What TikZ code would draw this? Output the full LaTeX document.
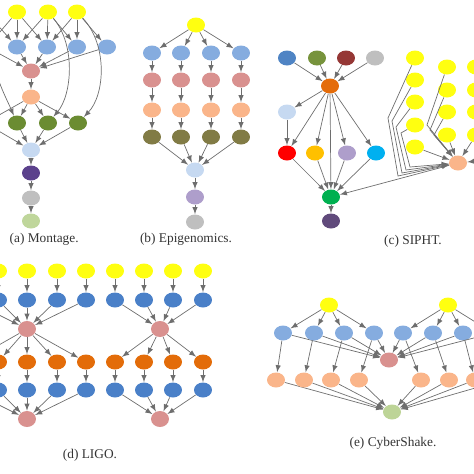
\documentclass[tikz,border=0pt]{standalone}
\usepackage{fontspec}
\setmainfont{Liberation Serif}
\usetikzlibrary{shapes.geometric}
\definecolor{ylw}{HTML}{FFFF10}
\definecolor{ltblue}{HTML}{85ACDF}
\definecolor{pinkj}{HTML}{D9918F}
\definecolor{peach}{HTML}{FAB58A}
\definecolor{mgreen}{HTML}{6B8C32}
\definecolor{paleblue}{HTML}{C6D9F1}
\definecolor{dkpurple}{HTML}{5B418C}
\definecolor{gry}{HTML}{BFBFBF}
\definecolor{palegreen}{HTML}{BFD69B}
\definecolor{olive}{HTML}{817B45}
\definecolor{lav}{HTML}{AE9ECB}
\definecolor{sblue}{HTML}{4F84C4}
\definecolor{sgreen}{HTML}{77933C}
\definecolor{sred}{HTML}{953735}
\definecolor{sorange}{HTML}{E46C0A}
\definecolor{amber}{HTML}{FFC000}
\definecolor{cyanj}{HTML}{00B0F0}
\definecolor{emerald}{HTML}{00B050}
\definecolor{spurple}{HTML}{604A7B}
\definecolor{lblue}{HTML}{4A80C8}
\definecolor{lorange}{HTML}{E36C09}
\definecolor{cgreen}{HTML}{BDD497}
\definecolor{linegray}{HTML}{6E6E6E}
\tikzset{
  job/.style={ellipse, minimum width=0.36cm, minimum height=0.3cm, inner sep=0pt},
  dep/.style={->, draw=linegray, line width=0.4pt},
  figcap/.style={font=\fontsize{7.6}{9}\selectfont, text=black!80, inner sep=0pt}
}
\begin{document}
\begin{tikzpicture}[x=0.02cm, y=-0.02cm, >=latex]
    \useasboundingbox (0,0) rectangle (474,474);
    \clip (0,0) rectangle (474,474);
    % (a) Montage
    \foreach \i/\x in {0/-14,1/17,2/48,3/77}
        \node[job, fill=ylw] (mY\i) at (\x,12) {};
    \foreach \i/\x in {0/-13,1/17,2/47,3/77,4/107}
        \node[job, fill=ltblue] (mB\i) at (\x,47) {};
    \node[job, fill=pinkj] (mP) at (31,71) {};
    \node[job, fill=peach] (mO) at (31,97) {};
    \foreach \i/\x in {0/-15,1/17,2/48,3/78}
        \node[job, fill=mgreen] (mG\i) at (\x,123) {};
    \node[job, fill=paleblue] (mL) at (31,150) {};
    \node[job, fill=dkpurple] (mU) at (31,173) {};
    \node[job, fill=gry] (mR) at (31,198) {};
    \node[job, fill=palegreen] (mN) at (31,221) {};
    \foreach \a/\b in {0/0,0/1,1/0,1/1,1/2,2/1,2/2,2/3,3/2,3/3,3/4}
        \draw[dep] (mY\a) -- (mB\b);
    \foreach \b in {0,...,4}
        \draw[dep] (mB\b) -- (mP);
    \draw[dep] (mP) -- (mO);
    \foreach \g in {0,...,3} {
        \draw[dep] (mO) -- (mG\g);
        \draw[dep] (mG\g) -- (mL);
    }
    \draw[dep] (mY0) .. controls (-10,70) and (5,95) .. (mG1);
    \draw[dep] (mY2) .. controls (76,45) and (72,95) .. (mG2);
    \draw[dep] (mY3) .. controls (108,45) and (105,95) .. (mG3);
    \draw[dep] (mL) -- (mU);
    \draw[dep] (mU) -- (mR);
    \draw[dep] (mR) -- (mN);
    \node[figcap, anchor=east] (capA) at (79,239) {(a) Montage.};
    % (b) Epigenomics
    \node[job, fill=ylw] (eY) at (196,25) {};
    \foreach \i/\x in {1/152,2/181,3/211,4/241} {
        \node[job, fill=ltblue] (eB\i) at (\x,53) {};
        \node[job, fill=pinkj] (eP\i) at (\x,80) {};
        \node[job, fill=peach] (eO\i) at (\x,110) {};
        \node[job, fill=olive] (eK\i) at (\x,137) {};
    }
    \node[job, fill=paleblue] (eL) at (195,170) {};
    \node[job, fill=lav] (eV) at (195,197) {};
    \node[job, fill=gry] (eG) at (195,222) {};
    \foreach \i in {1,...,4} {
        \draw[dep] (eY) -- (eB\i);
        \draw[dep] (eB\i) -- (eP\i);
        \draw[dep] (eP\i) -- (eO\i);
        \draw[dep] (eO\i) -- (eK\i);
        \draw[dep] (eK\i) -- (eL);
    }
    \draw[dep] (eL) -- (eV);
    \draw[dep] (eV) -- (eG);
    \node[figcap] (capB) at (186,239) {(b) Epigenomics.};
    % (c) SIPHT
    \node[job, fill=sblue] (sT1) at (287,58) {};
    \node[job, fill=sgreen] (sT2) at (317,58) {};
    \node[job, fill=sred] (sT3) at (346,58) {};
    \node[job, fill=gry] (sT4) at (375,58) {};
    \node[job, fill=sorange] (sO) at (330,86) {};
    \node[job, fill=paleblue] (sL) at (287,112) {};
    \node[job, fill=red] (sR1) at (287,153) {};
    \node[job, fill=amber] (sR2) at (315,153) {};
    \node[job, fill=lav] (sR3) at (347,153) {};
    \node[job, fill=cyanj] (sR4) at (376,153) {};
    \node[job, fill=emerald] (sG) at (331,197) {};
    \node[job, fill=spurple] (sU) at (331,221) {};
    \foreach \i/\y in {1/58,2/80,3/102,4/125,5/147}
        \node[job, fill=ylw] (sA\i) at (415,\y) {};
    \foreach \i/\y in {1/67,2/90,3/112,4/135} {
        \node[job, fill=ylw] (sB\i) at (447,\y) {};
        \node[job, fill=ylw] (sC\i) at (476,\y) {};
    }
    \node[job, fill=peach] (sK) at (458,163) {};
    \node[job, fill=ylw] (sD) at (505,158) {};
    \foreach \i in {1,...,4} {
        \draw[dep] (sT\i) -- (sO);
        \draw[dep] (sO) -- (sR\i);
        \draw[dep] (sR\i) -- (sG);
    }
    \draw[dep] (sO) -- (sL);
    \draw[dep] (sL) -- (sR1);
    \draw[dep] (sO) -- (sG);
    \draw[dep] (sG) -- (sU);
    \draw[dep] (sK) -- (sG);
    \draw[dep] (sA1) -- (388,118) -- (398,176) -- (sK);
    \draw[dep] (sA2) -- (392,121) -- (402,173) -- (sK);
    \draw[dep] (sA3) -- (396,127) -- (406,170) -- (sK);
    \draw[dep] (sA4) -- (401,133) -- (410,167) -- (sK);
    \draw[dep] (sA5) -- (sK);
    \draw[dep] (sB1) -- (427,125) -- (sK);
    \draw[dep] (sB2) -- (430,130) -- (sK);
    \draw[dep] (sB3) -- (434,135) -- (sK);
    \draw[dep] (sB4) -- (sK);
    \draw[dep] (sC4) -- (sK);
    \draw[dep] (sD) -- (sK);
    \node[figcap] (capC) at (413,241) {(c) SIPHT.};
    % (d) LIGO
    \foreach \i/\x in {1/-31,2/-2,3/27,4/57,5/86,6/115,7/144,8/173,9/203} {
        \node[job, fill=ylw] (lY\i) at (\x,271) {};
        \node[job, fill=lblue] (lB\i) at (\x,300) {};
        \node[job, fill=lorange] (lO\i) at (\x,362) {};
        \node[job, fill=lblue] (lC\i) at (\x,390) {};
        \draw[dep] (lY\i) -- (lB\i);
        \draw[dep] (lO\i) -- (lC\i);
    }
    \node[job, fill=pinkj, minimum height=0.32cm] (lP1) at (27,329) {};
    \node[job, fill=pinkj, minimum height=0.32cm] (lP2) at (160,329) {};
    \node[job, fill=pinkj, minimum height=0.32cm] (lQ1) at (27,419) {};
    \node[job, fill=pinkj, minimum height=0.32cm] (lQ2) at (160,419) {};
    \foreach \i/\g in {1/1,2/1,3/1,4/1,5/1,6/2,7/2,8/2,9/2} {
        \draw[dep] (lB\i) -- (lP\g);
        \draw[dep] (lP\g) -- (lO\i);
        \draw[dep] (lC\i) -- (lQ\g);
    }
    \node[figcap] (capD) at (90,455) {(d) LIGO.};
    % (e) CyberShake
    \node[job, fill=ylw] (cY1) at (329,305) {};
    \node[job, fill=ylw] (cY2) at (448,305) {};
    \node[job, fill=pinkj] (cP) at (389,360) {};
    \node[job, fill=cgreen] (cG) at (392,412) {};
    \foreach \i/\x/\z/\g in {1/283/276/1,2/314/304/1,3/344/331/1,4/374/359/1,5/403/421/2,6/433/449/2,7/463/475/2,8/493/503/2} {
        \node[job, fill=ltblue] (cB\i) at (\x,333) {};
        \node[job, fill=peach] (cK\i) at (\z,380) {};
        \draw[dep] (cY\g) -- (cB\i);
        \draw[dep] (cB\i) -- (cP);
        \draw[dep] (cB\i) -- (cK\i);
        \draw[dep] (cK\i) -- (cG);
    }
    \node[figcap] (capE) at (393,443) {(e) CyberShake.};
\end{tikzpicture}
\end{document}
